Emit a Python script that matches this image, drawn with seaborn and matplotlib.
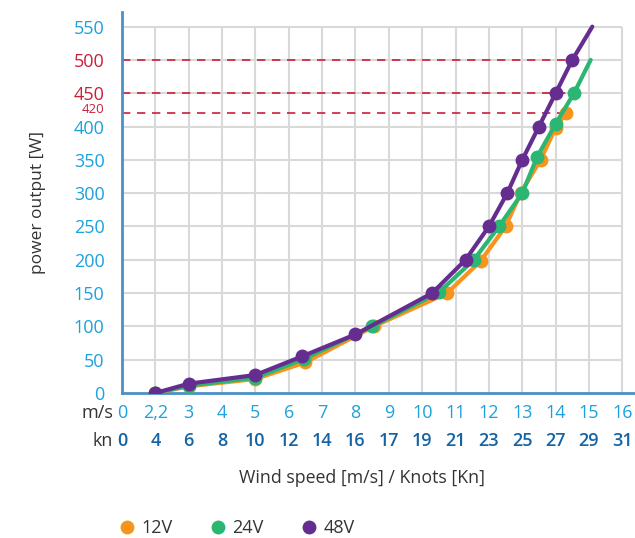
import matplotlib
matplotlib.use("Agg")
import matplotlib.pyplot as plt
import matplotlib.transforms as mtransforms
from matplotlib.lines import Line2D
import seaborn as sns
import numpy as np
import pandas as pd

# axis labels (m/s and knots), evenly spaced on the chart
ms_ticks = [0, 2.2, 3, 4, 5, 6, 7, 8, 9, 10, 11, 12, 13, 14, 15, 16]
ms_labels = ["0", "2,2", "3", "4", "5", "6", "7", "8", "9", "10", "11", "12", "13", "14", "15", "16"]
kn_labels = ["0", "4", "6", "8", "10", "12", "14", "16", "17", "19", "21", "23", "25", "27", "29", "31"]

y_ticks = [0, 50, 100, 150, 200, 250, 300, 350, 400, 450, 500, 550]
ref_levels = [420, 450, 500]
ref_ends = [14.48, 14.78, 14.37]

# series (wind speed m/s, power W)
v12_speed = [2.2, 3, 5, 6.5, 8.55, 10.75, 11.75, 12.5, 12.95, 13.55, 14.0, 14.3]
v12_power = [0, 10, 21, 46, 100, 150, 198, 250, 300, 350, 398, 420]
v24_speed = [2.2, 3, 5, 6.45, 8.5, 10.5, 11.55, 12.3, 13.0, 13.45, 14.0, 14.55, 15.05]
v24_power = [0, 11, 23, 51, 100, 151, 200, 250, 300, 355, 404, 450, 500]
v48_speed = [2.2, 3, 5, 6.4, 8.0, 10.3, 11.3, 12.0, 12.55, 13.0, 13.5, 14.0, 14.5, 15.1]
v48_power = [0, 14, 27, 55, 88, 150, 200, 250, 300, 350, 400, 450, 500, 550]

colors = {"12V": "#f7941d", "24V": "#2bb673", "48V": "#662d91"}
series = [
    ("12V", v12_speed, v12_power, None),
    ("24V", v24_speed, v24_power, slice(0, -1)),
    ("48V", v48_speed, v48_power, slice(0, -1)),
]

sns.set_style("white")
plt.rcParams["font.family"] = ["Open Sans", "DejaVu Sans"]

LIGHT_BLUE = "#1ba1de"
DARK_BLUE = "#1464a5"
RED = "#c8203a"
GRID = "#d9d9d9"
TXT = "#333333"

fig = plt.figure(figsize=(6.35, 5.38), dpi=100)
ax = fig.add_axes([122 / 635, 145 / 538, 513 / 635, 381 / 538])

# grid, limited to the 0-16 / 0-550 area
ax.hlines(y_ticks[1:], 0, 16, color=GRID, lw=1.5, zorder=0)
ax.vlines(ms_ticks[1:], 0, 550, color=GRID, lw=1.5, zorder=0)

for lvl, xe in zip(ref_levels, ref_ends):
    ax.plot([0, xe], [lvl, lvl], color=RED, lw=1.2, ls=(0, (5, 4)), zorder=1)

for name, xs, ys, me in series:
    df = pd.DataFrame({"speed": xs, "power": ys})
    sns.lineplot(data=df, x="speed", y="power", color=colors[name], lw=3,
                 marker="o", markersize=10, markeredgewidth=0, markevery=me,
                 sort=False, errorbar=None, ax=ax, zorder=3)

# evenly spaced, piecewise linear wind speed axis
scale_ms = np.array(ms_ticks + [17])
scale_pos = np.arange(len(scale_ms), dtype=float)
ax.set_xscale("function", functions=(lambda v: np.interp(v, scale_ms, scale_pos),
                                     lambda p: np.interp(p, scale_pos, scale_ms)))
ax.set_xlim(0, 16.38)
ax.set_ylim(0, 572)

ax.set_xticks(ms_ticks)
ax.set_xticklabels(ms_labels, color=LIGHT_BLUE, fontsize=13)
ax.tick_params(axis="x", length=0, pad=8)

ax.set_yticks(y_ticks + [420])
ax.set_yticklabels([str(v) for v in y_ticks] + [""], fontsize=13)
ax.tick_params(axis="y", length=6.5, width=1.5, color=GRID, pad=6)
for t, v in zip(ax.yaxis.get_major_ticks(), y_ticks + [420]):
    if v in ref_levels:
        t.label1.set_color(RED)
        t.tick1line.set_color(RED)
        t.tick1line.set_markeredgewidth(1.2)
    else:
        t.label1.set_color(LIGHT_BLUE)

# the small 420 label, nudged up so it clears 400
lab_trans = (mtransforms.blended_transform_factory(ax.transAxes, ax.transData)
             + mtransforms.ScaledTranslation(-12.5 / 72, 2.5 / 72, fig.dpi_scale_trans))
ax.text(0, 420, "420", transform=lab_trans, ha="right", va="center",
        color=RED, fontsize=9.5)

ax.set_xlabel("")
ax.set_ylabel("")

for s in ["top", "right"]:
    ax.spines[s].set_visible(False)
for s in ["left", "bottom"]:
    ax.spines[s].set_color("#4a90c8")
    ax.spines[s].set_linewidth(2)

# knots row
trans = mtransforms.blended_transform_factory(ax.transData, ax.transAxes)
for x, lab in zip(ms_ticks, kn_labels):
    ax.text(x, -0.126, lab, transform=trans, ha="center", va="center",
            color=DARK_BLUE, fontsize=13, fontweight="semibold")

fig.text(113 / 635, 1 - 413 / 538, "m/s", ha="right", va="center", color=TXT, fontsize=13)
fig.text(113 / 635, 1 - 441 / 538, "kn", ha="right", va="center", color=TXT, fontsize=13)
fig.text(362 / 635, 1 - 478 / 538, "Wind speed [m/s] / Knots [Kn]", ha="center", va="center",
         color=TXT, fontsize=12.8)
fig.text(38 / 635, 1 - 202 / 538, "power output [W]", rotation=90, ha="center", va="center",
         color=TXT, fontsize=12.5)

handles = [Line2D([], [], ls="none", marker="o", markersize=10, markeredgewidth=0,
                  color=c, label=n) for n, c in colors.items()]
fig.legend(handles=handles, loc="center left", bbox_to_anchor=(100 / 635, 1 - 528 / 538),
           ncol=3, frameon=False, fontsize=13, handletextpad=0.2, columnspacing=1.9,
           handlelength=1.2, labelcolor=TXT)

fig.savefig("out.png", dpi=100)
